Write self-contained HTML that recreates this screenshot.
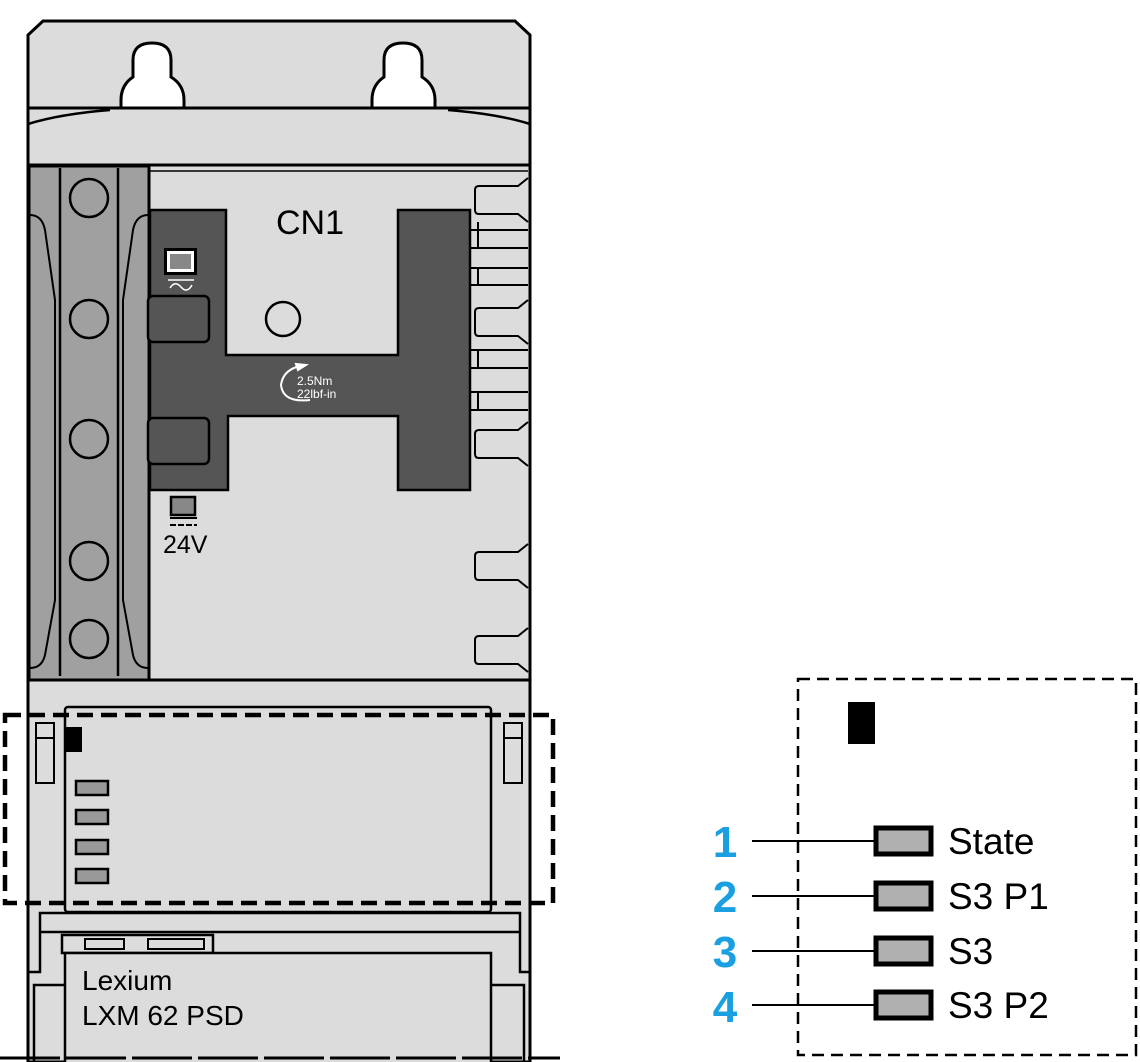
<!DOCTYPE html>
<html><head><meta charset="utf-8"><style>
html,body{margin:0;padding:0;background:#fff;}
svg{display:block;font-family:"Liberation Sans",sans-serif;}
</style></head><body>
<svg width="1140" height="1062" viewBox="0 0 1140 1062" xmlns="http://www.w3.org/2000/svg">
<path d="M28,1062 L28,35 L43,21 L515,21 L530,35 L530,1062 Z" fill="#dcdcdc" stroke="#000" stroke-width="3"/>
<path d="M121,108 L121,100 Q121,85 133,77 L133,60 Q133,43 152,43 Q171,43 171,60 L171,77 Q184,85 184,100 L184,108 Z" fill="#fff" stroke="#000" stroke-width="3"/>
<path d="M372,108 L372,100 Q372,85 384,77 L384,60 Q384,43 403,43 Q422,43 422,60 L422,77 Q435,85 435,100 L435,108 Z" fill="#fff" stroke="#000" stroke-width="3"/>
<line x1="28" y1="108" x2="530" y2="108" stroke="#000" stroke-width="3"/>
<path d="M28,124 Q60,114 110,110" fill="none" stroke="#000" stroke-width="2.5"/>
<path d="M530,124 Q498,114 448,110" fill="none" stroke="#000" stroke-width="2.5"/>
<line x1="28" y1="165" x2="530" y2="165" stroke="#000" stroke-width="3"/>
<line x1="140" y1="171" x2="528" y2="171" stroke="#000" stroke-width="1.5"/>
<rect x="29" y="166" width="120" height="514" fill="#a0a0a0" stroke="#000" stroke-width="3"/>
<line x1="60" y1="168" x2="60" y2="676" stroke="#000" stroke-width="2.5"/>
<line x1="118" y1="168" x2="118" y2="676" stroke="#000" stroke-width="2.5"/>
<path d="M30,215 Q42,215 45,230 L55,300 L55,600 L45,655 Q42,668 30,668" fill="none" stroke="#000" stroke-width="2"/>
<path d="M148,215 Q136,215 133,230 L123,300 L123,600 L133,655 Q136,668 148,668" fill="none" stroke="#000" stroke-width="2"/>
<g fill="none" stroke="#000" stroke-width="2.5">
<circle cx="89" cy="198" r="19"/><circle cx="89" cy="319" r="19"/><circle cx="89" cy="439" r="19"/><circle cx="89" cy="561" r="19"/><circle cx="89" cy="639" r="19"/>
</g>
<path d="M150,210 L226,210 L226,355 L398,355 L398,210 L470,210 L470,490 L398,490 L398,416 L228,416 L228,490 L150,490 Z" fill="#555" stroke="#000" stroke-width="2.5"/>
<rect x="148" y="296" width="61" height="46" rx="5" fill="#555" stroke="#000" stroke-width="2.5"/>
<rect x="148" y="418" width="61" height="46" rx="5" fill="#555" stroke="#000" stroke-width="2.5"/>
<rect x="164" y="248" width="33" height="27" fill="#000"/>
<rect x="167" y="251" width="27" height="21" fill="#fff"/>
<rect x="170" y="254" width="21" height="15" fill="#888"/>
<line x1="168" y1="280" x2="194" y2="280" stroke="#fff" stroke-width="1.5"/>
<path d="M170,288 Q175,280 181,287 Q187,294 192,285" fill="none" stroke="#fff" stroke-width="1.5"/>
<circle cx="283" cy="319" r="17" fill="none" stroke="#000" stroke-width="2.5"/>
<text x="310" y="234" font-size="34" text-anchor="middle" fill="#000">CN1</text>
<path d="M300,366 Q283,370 281,385 Q283,403 310,400" fill="none" stroke="#fff" stroke-width="2"/>
<path d="M296,364 L306,365 L298,370 Z" fill="#fff" stroke="#fff" stroke-width="2"/>
<text x="297" y="385" font-size="12" fill="#fff">2.5Nm</text>
<text x="297" y="398" font-size="12" fill="#fff">22lbf-in</text>
<rect x="171" y="497" width="24" height="18" fill="#888" stroke="#000" stroke-width="2.5"/>
<line x1="170" y1="518" x2="197" y2="518" stroke="#000" stroke-width="2"/>
<line x1="170" y1="525" x2="197" y2="525" stroke="#000" stroke-width="2" stroke-dasharray="6,2"/>
<text x="163" y="553" font-size="25" fill="#000">24V</text>
<g fill="none" stroke="#000" stroke-width="2">
<line x1="470" y1="230" x2="528" y2="230"/><line x1="470" y1="248" x2="528" y2="248"/>
<line x1="470" y1="268" x2="528" y2="268"/><line x1="470" y1="285" x2="528" y2="285"/>
<line x1="470" y1="350" x2="528" y2="350"/><line x1="470" y1="368" x2="528" y2="368"/>
<line x1="470" y1="392" x2="528" y2="392"/><line x1="470" y1="410" x2="528" y2="410"/>
<line x1="478" y1="222" x2="478" y2="248"/><line x1="478" y1="268" x2="478" y2="285"/>
<line x1="478" y1="350" x2="478" y2="368"/><line x1="478" y1="392" x2="478" y2="410"/>
<path d="M528,178 L518,186 L479,186 Q475,186 475,190 L475,210 Q475,214 479,214 L518,214 L528,222"/>
<path d="M528,300 L518,308 L479,308 Q475,308 475,312 L475,332 Q475,336 479,336 L518,336 L528,344"/>
<path d="M528,422 L518,430 L479,430 Q475,430 475,434 L475,454 Q475,458 479,458 L518,458 L528,466"/>
<path d="M528,544 L518,552 L479,552 Q475,552 475,556 L475,576 Q475,580 479,580 L518,580 L528,588"/>
<path d="M528,628 L518,636 L479,636 Q475,636 475,640 L475,660 Q475,664 479,664 L518,664 L528,672"/>
</g>
<line x1="28" y1="680" x2="530" y2="680" stroke="#000" stroke-width="3"/>
<rect x="65" y="707" width="426" height="205" rx="3" fill="#dcdcdc" stroke="#000" stroke-width="2.5"/>
<rect x="65" y="727" width="17" height="25" fill="#000"/>
<g fill="#999" stroke="#000" stroke-width="2.5">
<rect x="76" y="781" width="32" height="14"/><rect x="76" y="810" width="32" height="14"/>
<rect x="76" y="840" width="32" height="14"/><rect x="76" y="869" width="32" height="14"/>
</g>
<g fill="none" stroke="#000" stroke-width="2">
<rect x="36" y="723" width="18" height="60"/><line x1="36" y1="738" x2="54" y2="738"/>
<rect x="504" y="723" width="18" height="60"/><line x1="504" y1="738" x2="522" y2="738"/>
</g>
<rect x="5" y="715" width="548" height="188" fill="none" stroke="#000" stroke-width="4.5" stroke-dasharray="16,8"/>
<g fill="none" stroke="#000" stroke-width="2.5">
<path d="M29,972 L40,972 L40,913 L520,913 L520,972 L530,972"/>
<line x1="40" y1="932" x2="520" y2="932"/>
<path d="M34,1062 L34,985 L65,985"/>
<path d="M524,1062 L524,985 L491,985"/>
</g>
<rect x="62" y="935" width="151" height="18" fill="#dcdcdc" stroke="#000" stroke-width="2.5"/>
<rect x="85" y="939" width="39" height="10" fill="#dcdcdc" stroke="#000" stroke-width="2"/>
<rect x="148" y="939" width="56" height="10" fill="#dcdcdc" stroke="#000" stroke-width="2"/>
<rect x="65" y="953" width="426" height="115" fill="#dcdcdc" stroke="#000" stroke-width="2.5"/>
<text x="82" y="990" font-size="28" fill="#000">Lexium</text>
<text x="82" y="1025" font-size="28" fill="#000">LXM 62 PSD</text>
<line x1="0" y1="1058" x2="560" y2="1058" stroke="#000" stroke-width="3" stroke-dasharray="60,6"/>
<rect x="798" y="679" width="338" height="376" fill="none" stroke="#000" stroke-width="2.5" stroke-dasharray="12,7"/>
<rect x="848" y="702" width="27" height="42" fill="#000"/>
<g stroke="#000" stroke-width="2">
<line x1="752" y1="841" x2="874" y2="841"/><line x1="752" y1="896" x2="874" y2="896"/>
<line x1="752" y1="951" x2="874" y2="951"/><line x1="752" y1="1005" x2="874" y2="1005"/>
</g>
<g fill="#b0b0b0" stroke="#000" stroke-width="5">
<rect x="876" y="828" width="55" height="26"/><rect x="876" y="883" width="55" height="26"/>
<rect x="876" y="938" width="55" height="26"/><rect x="876" y="992" width="55" height="26"/>
</g>
<g font-size="37" fill="#000">
<text x="948" y="854">State</text><text x="948" y="909">S3 P1</text>
<text x="948" y="964">S3</text><text x="948" y="1018">S3 P2</text>
</g>
<g font-size="44" font-weight="bold" fill="#1a9fe0" text-anchor="middle">
<text x="725" y="857">1</text><text x="725" y="912">2</text>
<text x="725" y="967">3</text><text x="725" y="1022">4</text>
</g>
</svg>
</body></html>
